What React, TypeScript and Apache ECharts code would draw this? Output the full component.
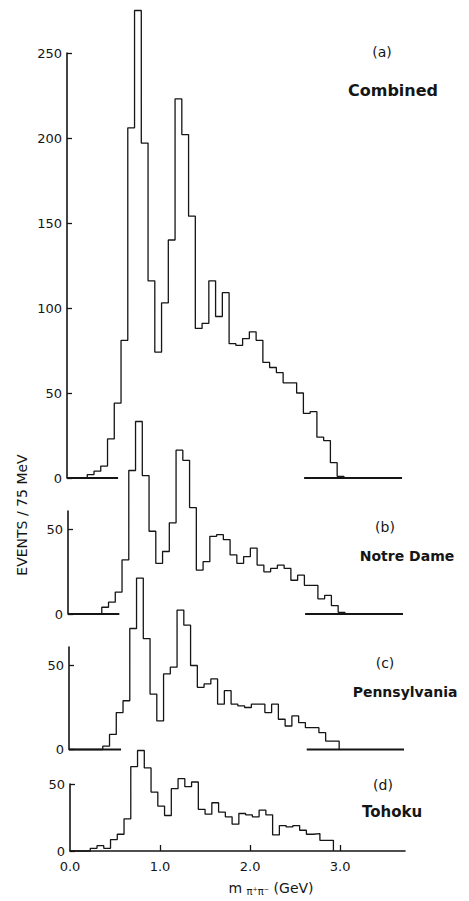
import React, { useEffect, useRef } from "react";
import * as echarts from "echarts";

// bin width in GeV (75 MeV); bin k covers [k*BIN, (k+1)*BIN)
const BIN = 0.075;

// Events per bin
const combined = [0, 0, 0, 2, 4, 7, 23, 44, 81, 206, 275, 197, 116, 74, 103, 140, 223, 202, 154, 88, 91, 116, 95, 109, 79, 78, 82, 86, 81, 68, 65, 62, 56, 56, 50, 38, 39, 24, 22, 9, 1];
const notreDame = [0, 0, 0, 0, 0, 4, 7, 13, 32, 85, 114, 82, 49, 30, 37, 54, 97, 91, 63, 26, 31, 46, 47, 44, 35, 30, 34, 39, 29, 25, 27, 29, 27, 20, 23, 17, 17, 9, 11, 5, 1];
const pennsylvania = [0, 0, 0, 0, 0, 2, 9, 22, 29, 72, 102, 66, 33, 17, 45, 49, 83, 74, 50, 37, 39, 42, 27, 35, 27, 26, 25, 27, 27, 22, 27, 18, 14, 20, 16, 13, 13, 10, 5, 5];
const tohoku = [0, 0, 0, 2, 4, 2, 8.5, 12.5, 24, 63, 75, 62, 44, 33.5, 26.5, 46.5, 54, 48, 51.5, 31, 27.5, 36, 29, 25.5, 20, 28, 27, 25.5, 30.5, 27, 12, 19, 18, 19, 15.5, 12.5, 13, 8, 8];

// Baseline pieces drawn in panels (a)-(c), in GeV
const baselineLeftEnd = [0.567, 0.57, 0.578];
const baselineRightStart = [2.633, 2.633, 2.64];

const X_MAX = 3.72;
const xTickLabels = [0, 1, 2, 3];
const panelTags = ["(a)", "(b)", "(c)", "(d)"];
const panelNames = ["Combined", "Notre Dame", "Pennsylvania", "Tohoku"];
const yMaxes = [250, 61, 61, 50];
const yTickValues = [[0, 50, 100, 150, 200, 250], [0, 50], [0, 50], [0, 50]];
const panelData = [combined, notreDame, pennsylvania, tohoku];

// layout (pixels)
const gridBoxes = [
  { left: 67, top: 53, width: 335, height: 425 },
  { left: 68, top: 511, width: 335, height: 103 },
  { left: 69, top: 647, width: 335, height: 102.5 },
  { left: 70, top: 784, width: 335, height: 67 },
];
const tagPos = [
  [382, 52],
  [385, 527],
  [385, 663],
  [383, 785],
];
const namePos = [
  [393, 90],
  [407, 556],
  [405, 692],
  [392, 812],
];
const nameSizes = [16, 14, 14, 15];

const INK = "#151515";
const FONT = "DejaVu Sans";

function histPoints(vals: number[]) {
  const pts: number[][] = vals.map((v, i) => [i * BIN, v]);
  pts.push([vals.length * BIN, 0]);
  return pts;
}

export default function App() {
  const ref = useRef<HTMLDivElement>(null);

  useEffect(() => {
    if (!ref.current) return;
    const chart = echarts.init(ref.current, null, { renderer: "svg" });

    const grid = gridBoxes.map((g) => ({ ...g, outerBoundsMode: "none", containLabel: false }));

    const xAxis = gridBoxes.map((_, i) => {
      const isBottom = i === 3;
      return {
        gridIndex: i,
        type: "value",
        min: 0,
        max: X_MAX,
        show: isBottom,
        axisLine: { show: isBottom, onZero: false, lineStyle: { color: INK, width: 1.6 } },
        axisTick: {
          show: isBottom,
          inside: true,
          length: 6,
          customValues: [1, 2, 3],
          lineStyle: { color: INK, width: 1.3 },
        },
        axisLabel: {
          show: isBottom,
          customValues: xTickLabels,
          color: INK,
          fontFamily: FONT,
          fontSize: 13,
          margin: 9,
          formatter: (v: number) => (xTickLabels.includes(v) ? v.toFixed(1) : ""),
        },
        splitLine: { show: false },
      };
    });

    const yAxis = gridBoxes.map((_, i) => ({
      gridIndex: i,
      type: "value",
      min: 0,
      max: yMaxes[i],
      interval: 50,
      axisLine: { show: true, onZero: false, lineStyle: { color: INK, width: 1.6 } },
      axisTick: {
        show: true,
        inside: true,
        length: 5,
        customValues: yTickValues[i],
        lineStyle: { color: INK, width: 1.3 },
      },
      axisLabel: {
        show: true,
        customValues: yTickValues[i],
        color: INK,
        fontFamily: FONT,
        fontSize: 13,
        margin: 5,
        formatter: (v: number) => (yTickValues[i].includes(v) ? String(v) : ""),
      },
      splitLine: { show: false },
    }));

    const series: any[] = [];
    panelData.forEach((vals, i) => {
      series.push({
        type: "line",
        xAxisIndex: i,
        yAxisIndex: i,
        data: histPoints(vals),
        step: "end",
        symbol: "none",
        showSymbol: false,
        clip: false,
        lineStyle: { color: INK, width: 1.3 },
        z: 3,
      });
    });
    baselineLeftEnd.forEach((end, i) => {
      series.push({
        type: "line",
        xAxisIndex: i,
        yAxisIndex: i,
        data: [
          [0, 0],
          [end, 0],
        ],
        symbol: "none",
        clip: false,
        lineStyle: { color: INK, width: 2 },
        z: 4,
      });
      series.push({
        type: "line",
        xAxisIndex: i,
        yAxisIndex: i,
        data: [
          [baselineRightStart[i], 0],
          [X_MAX, 0],
        ],
        symbol: "none",
        clip: false,
        lineStyle: { color: INK, width: 2 },
        z: 4,
      });
    });

    const graphic: any[] = [
      {
        type: "text",
        x: 22,
        y: 515,
        rotation: Math.PI / 2,
        style: {
          text: "EVENTS / 75 MeV",
          fill: INK,
          fontFamily: FONT,
          fontSize: 14,
          align: "center",
          verticalAlign: "middle",
        },
      },
      {
        type: "text",
        x: 271,
        y: 888,
        style: {
          text: "{a|m }{b|π⁺π⁻}{a| (GeV)}",
          fill: INK,
          align: "center",
          verticalAlign: "middle",
          rich: {
            a: { fontFamily: FONT, fontSize: 14, fill: INK },
            b: { fontFamily: FONT, fontSize: 10, fill: INK, verticalAlign: "bottom", padding: [6, 0, 0, 0] },
          },
        },
      },
    ];
    panelTags.forEach((t, i) => {
      graphic.push({
        type: "text",
        x: tagPos[i][0],
        y: tagPos[i][1],
        style: { text: t, fill: INK, fontFamily: FONT, fontSize: 14, align: "center", verticalAlign: "middle" },
      });
      graphic.push({
        type: "text",
        x: namePos[i][0],
        y: namePos[i][1],
        style: {
          text: panelNames[i],
          fill: INK,
          fontFamily: FONT,
          fontSize: nameSizes[i],
          fontWeight: "bold",
          align: "center",
          verticalAlign: "middle",
        },
      });
    });

    chart.setOption({
      animation: false,
      backgroundColor: "#ffffff",
      grid,
      xAxis,
      yAxis,
      series,
      graphic,
    });

    return () => chart.dispose();
  }, []);

  return (
    <div
      ref={ref}
      style={{ position: "fixed", left: 0, top: 0, width: 469, height: 901, background: "#fff" }}
    />
  );
}
